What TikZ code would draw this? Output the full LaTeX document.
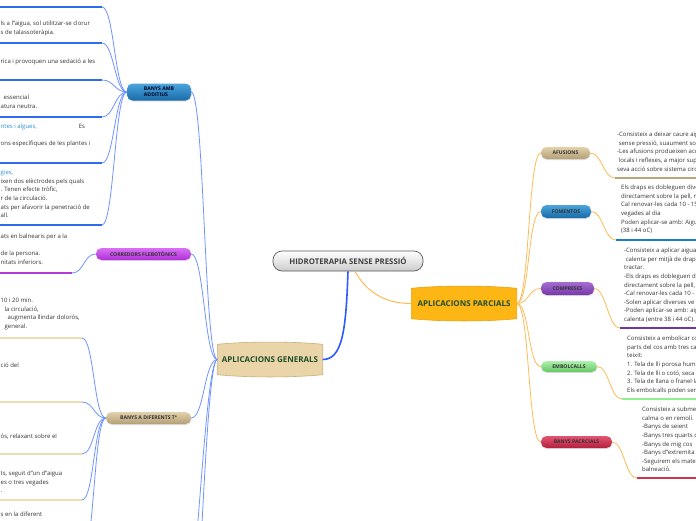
\documentclass[tikz,border=0pt]{standalone}
\usepackage{fontspec}
\setmainfont{Open Sans}
\usetikzlibrary{backgrounds,shadows}
\definecolor{mainblue}{HTML}{2E5BFF}
\definecolor{leftblue}{HTML}{6F93FF}
\definecolor{rightorange}{HTML}{FDBB55}
\definecolor{topicgreen}{HTML}{1E4D2B}
\definecolor{agfill}{HTML}{E9D5A7}
\definecolor{agdraw}{HTML}{C8B07C}
\definecolor{apfill}{HTML}{FDB614}
\definecolor{apdraw}{HTML}{E9A20C}
\definecolor{tantop}{HTML}{E2D1AA}
\definecolor{tanbot}{HTML}{B39E77}
\definecolor{bluetop}{HTML}{4BA5DC}
\definecolor{bluebot}{HTML}{186BA8}
\definecolor{purptop}{HTML}{A66CD2}
\definecolor{purpbot}{HTML}{7639A8}
\definecolor{magtop}{HTML}{D870F2}
\definecolor{magbot}{HTML}{B02FD8}
\definecolor{greentop}{HTML}{AEF0AE}
\definecolor{greenbot}{HTML}{64C764}
\definecolor{redtop}{HTML}{E25474}
\definecolor{redbot}{HTML}{B41E3A}
\definecolor{linkblue}{HTML}{2A8FD0}
\definecolor{ulblue}{HTML}{2F6BEB}
\definecolor{ulmag}{HTML}{B23CD6}
\definecolor{ultanlight}{HTML}{EEDCB3}
\definecolor{ultan}{HTML}{B9A57E}
\definecolor{ulfom}{HTML}{1C7CC7}
\definecolor{ulcomp}{HTML}{6F35A5}
\definecolor{ulemb}{HTML}{90EE90}
\definecolor{ulbp}{HTML}{CC3550}

\begin{document}
\begin{tikzpicture}[x=1pt,y=-1pt,
    hub/.style={rounded corners=9pt,minimum width=150pt,minimum height=20pt,inner sep=0pt,
      top color=white,bottom color=black!20,draw=black!65,line width=.7pt,
      font=\bfseries\fontsize{7.8}{9}\selectfont,text=black!75},
    topic/.style={minimum width=105pt,minimum height=30pt,inner sep=0pt,
      font=\bfseries\fontsize{8}{9}\selectfont,text=topicgreen},
    pill/.style={rounded corners=5.5pt,minimum height=12pt,inner sep=0pt,
      font=\bfseries\fontsize{5.1}{5.8}\selectfont,text=black!80,
      drop shadow={opacity=.25,shadow xshift=.5pt,shadow yshift=-1pt}},
    note/.style={anchor=north west,inner sep=0pt,align=left,
      font=\fontsize{6}{8.6}\selectfont,text=black!80},
    bline/.style={draw=leftblue,line width=.8pt},
    oline/.style={draw=rightorange,line width=.8pt},
    uline/.style={line width=1.6pt}]
  \useasboundingbox (0,0) rectangle (696,520);
  \clip (0,0) rectangle (696,520);

  % centre and main topics
  \node[hub] (hub) at (348,261) {HIDROTERAPIA SENSE PRESSIÓ};
  \node[topic] (ag) at (270,359.5) {APLICACIONS GENERALS};
  \node[topic] (ap) at (464,303.5) {APLICACIONS PARCIALS};
  \begin{scope}[on background layer]
    \filldraw[fill=agfill,draw=agdraw,line width=.6pt]
      (ag.north west) .. controls +(30,-3) and +(-30,-3) .. (ag.north east)
      -- (ag.south east) .. controls +(-30,3) and +(30,3) .. (ag.south west) -- cycle;
    \filldraw[fill=apfill,draw=apdraw,line width=.6pt]
      (ap.north west) .. controls +(30,-3) and +(-30,-3) .. (ap.north east)
      -- (ap.south east) .. controls +(-30,3) and +(30,3) .. (ap.south west) -- cycle;
  \end{scope}
  \draw[mainblue,line width=1.6pt] (hub.south) .. controls +(-2,58) and +(20,0) .. (ag.east);
  \draw[oline,line width=1pt] ([xshift=7pt]hub.south) .. controls +(12,22) and +(-25,0) .. (ap.west);

  % aplicacions parcials
  \node[pill,top color=tantop,bottom color=tanbot,minimum width=49pt] (afu) at (565.5,153) {AFUSIONS};
  \node[pill,top color=bluetop,bottom color=bluebot,minimum width=50pt,minimum height=13pt] (fom) at (566,211.5) {FOMENTOS};
  \node[pill,top color=purptop,bottom color=purpbot,minimum width=53pt,minimum height=13pt] (comp) at (567.5,288.5) {COMPRESES};
  \node[pill,top color=greentop,bottom color=greenbot,minimum width=56pt,minimum height=11pt] (emb) at (569,366.5) {EMBOLCALLS};
  \node[pill,top color=redtop,bottom color=redbot,minimum width=71pt] (bp) at (576.5,442) {BANYS PACRCIALS};
  \foreach \n in {afu,fom,comp,emb,bp}
    \draw[oline] (ap.east) .. controls +(13,0) and +(-13,0) .. (\n.west);

  \coordinate (uafu) at (615,178);
  \coordinate (ufom) at (616,240);
  \coordinate (ucomp) at (620,328);
  \coordinate (uemb) at (622,399);
  \coordinate (ubp) at (637,478);
  \draw[uline,ultan] (uafu) -- ++(100,0);
  \draw[uline,ulfom] (ufom) -- ++(100,0);
  \draw[uline,ulcomp] (ucomp) -- ++(100,0);
  \draw[uline,ulemb] (uemb) -- ++(100,0);
  \draw[uline,ulbp] (ubp) -- ++(100,0);
  \draw[oline] (afu.east) .. controls +(12,0) and +(-12,0) .. (uafu);
  \draw[oline] (fom.east) .. controls +(12,0) and +(-12,0) .. (ufom);
  \draw[oline] (comp.east) .. controls +(12,0) and +(-12,0) .. (ucomp);
  \draw[oline] (emb.east) .. controls +(12,0) and +(-12,0) .. (uemb);
  \draw[oline] (bp.east) .. controls +(12,0) and +(-12,0) .. (ubp);

  \node[note] (tafu) at (617,132) {-Consisteix a deixar caure aigua\\
    \ sense pressió, suaument sobre\\-Les afusions produeixen accions\\
    \ locals i reflexes, a major superfície\\seva acció sobre sistema circulatori};
  \node[note] (tfom) at (621,185) {Els draps es dobleguen diverses\\directament sobre la pell, n\\
    Cal renovar-les cada 10 - 15\\vegades al dia\\Poden aplicar-se amb: Aigua\\(38 i 44 oC)};
  \node[note] (tcomp) at (624,248) {-Consisteix a aplicar aigua\\
    \ calenta per mitjà de draps\\tractar.\\-Els draps es dobleguen d\\
    directament sobre la pell,\\-Cal renovar-les cada 10 -\\-Solen aplicar diverses ve\\
    -Poden aplicar-se amb: aig\\calenta (entre 38 i 44 oC).};
  \node[note] (temb) at (627,336) {Consisteix a embolicar co\\parts del cos amb tres ca\\teixit:\\
    1. Tela de lli porosa humi\\2. Tela de lli o cotó, seca i\\3. Tela de llana o franel·la\\
    Els embolcalls poden ser};
  \node[note] (tbp) at (642,407) {Consisteix a subme\\calma o en remolí.\\-Banys de seient\\
    -Banys tres quarts c\\-Banys de mig cos\\-Banys d'{}'extremita\\-Seguirem els mate\\balneació.};

  % aplicacions generals
  \node[pill,top color=bluetop,bottom color=bluebot,minimum width=64pt,minimum height=17pt,
    align=left,text=black!85!blue] (baa) at (159,92) {BANYS AMB\\ADDITIUS};
  \node[pill,top color=magtop,bottom color=magbot,minimum width=95pt] (corr) at (143.5,254) {CORREDORS FLEBOTÒNICS};
  \node[pill,top color=tantop,bottom color=tanbot,minimum width=85pt] (badt) at (148.5,418) {BANYS A DIFERENTS Tª};
  \coordinate (agmore1) at (182,640);
  \coordinate (agmore2) at (186,700);
  \foreach \n in {baa,corr,badt}
    \draw[bline] (ag.west) .. controls +(-13,0) and +(13,0) .. (\n.east);
  \foreach \n in {agmore1,agmore2}
    \draw[bline] (ag.west) .. controls +(-13,0) and +(13,0) .. (\n);

  % banys amb additius
  \foreach \y [count=\i] in {7,43,80,117,163,225} {
    \coordinate (ua\i) at (102,\y);
    \draw[uline,ulblue] (-5,\y) -- (ua\i);
    \draw[bline] (baa.west) .. controls +(-12,0) and +(12,0) .. (ua\i);
  }
  \node[note] (ta1) at (0.5,-6) {n talassoteràpia.};
  \node[note] (ta2) at (0.5,21) {ls a l'{}'aigua, sol utilitzar-se clorur\\s de talassoteràpia.};
  \node[note] (ta3) at (0.5,59) {rica i provoquen una sedació a les};
  \node[note] (ta4) at (0.5,95) {\hspace*{3pt}essencial\\atura neutra.};
  \node[note] (ta5) at (0.5,124) {\textcolor{linkblue}{ntes i algues,}\hspace*{42pt}Es\\[8.6pt]
    ons específiques de les plantes i};
  \node[note] (ta6) at (0.5,170) {\textcolor{linkblue}{gies,}\\ixen dos elèctrodes pels quals\\
    . Tenen efecte tròfic,\\r de la circulació.\\ats per afavorir la penetració de\\all.};

  % corredors
  \coordinate (uc1) at (72,273);
  \draw[uline,ulmag] (-5,273) -- (uc1);
  \draw[bline] (corr.west) .. controls +(-12,0) and +(12,0) .. (uc1);
  \node[note] (tc1) at (0.5,234) {ats en balnearis per a la\\[8.6pt]de la persona.\\nitats inferiors.};

  % banys a diferents temperatures
  \foreach \y [count=\i] in {338,402,454,500} {
    \coordinate (ud\i) at (82,\y);
    \draw[uline,ultanlight] (-5,\y) -- (ud\i);
    \draw[bline] (badt.west) .. controls +(-12,0) and +(12,0) .. (ud\i);
  }
  \coordinate (udmore) at (82,560);
  \draw[bline] (badt.west) .. controls +(-12,0) and +(12,0) .. (udmore);
  \node[note] (td1) at (0.5,298) {10 i 20 min.\\\hspace*{4pt}la circulació,\\
    \hspace*{7pt}augmenta llindar dolorós,\\\hspace*{4pt}general.};
  \node[note] (td2) at (0.5,363) {ció del};
  \node[note] (td3) at (0.5,434) {ós, relaxant sobre el};
  \node[note] (td4) at (0.5,471) {ts, seguit d'{}'un d'{}'aigua\\es o tres vegades\\.};
  \node[note] (td5) at (0.5,512) {s en la diferent};
\end{tikzpicture}
\end{document}
